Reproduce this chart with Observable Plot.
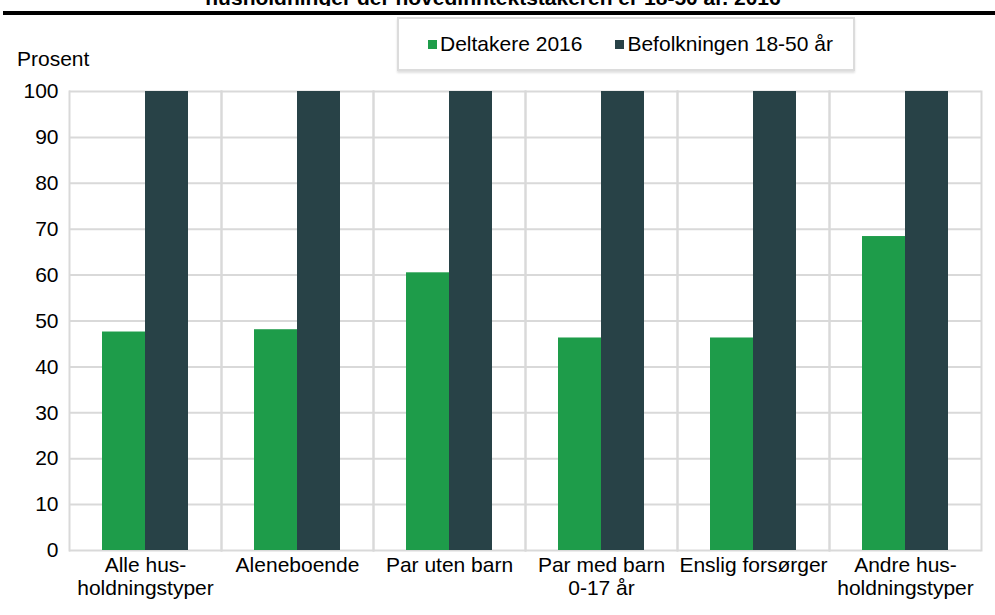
<!DOCTYPE html>
<html>
<head>
<meta charset="utf-8">
<script src="https://cdn.jsdelivr.net/npm/d3@7"></script>
<script src="https://cdn.jsdelivr.net/npm/@observablehq/plot@0.6"></script>
<style>
  html, body { margin: 0; padding: 0; background: #fff; }
  body { width: 995px; height: 615px; position: relative; overflow: hidden; font-family: "Liberation Sans", Arial, sans-serif; color: #000; }
  #chart { position: absolute; left: 0; top: 0; }
  #titleclip { position: absolute; left: 0; top: 0; width: 995px; height: 6px; overflow: hidden; }
  #title { position: absolute; left: 0; width: 986px; top: -13px; text-align: center; font-weight: bold; font-size: 21px; line-height: 21px; }
  #rule { position: absolute; left: 3px; top: 11px; width: 992px; height: 4px; background: #000; }
  #legend { position: absolute; left: 397px; top: 17px; width: 454px; height: 50px; border: 2px solid #dcdcdc; box-shadow: 0 2px 2px rgba(0,0,0,0.12); background: #fff; display: flex; align-items: center; justify-content: flex-start; padding-left: 29px; box-sizing: content-box; gap: 33px; font-size: 21px; }
  #legend { width: 425px; }
  .item { display: flex; align-items: center; }
  .sw { width: 9px; height: 9px; margin-right: 3px; display: inline-block; }
  #ylabel { position: absolute; left: 17px; top: 47px; font-size: 21px; }
</style>
</head>
<body>
<div id="chart"></div>
<div id="titleclip"><div id="title">husholdninger der hovedinntektstakeren er 18-50 år. 2016</div></div>
<div id="rule"></div>
<div id="legend"></div>
<div id="ylabel">Prosent</div>
<script>
const categories = ["Alle hus-\nholdningstyper", "Aleneboende", "Par uten barn", "Par med barn\n0-17 år", "Enslig forsørger", "Andre hus-\nholdningstyper"];
const seriesNames = ["Deltakere 2016", "Befolkningen 18-50 år"];
const deltakere = [47.6, 48.1, 60.5, 46.3, 46.3, 68.4];
const befolkningen = [100, 100, 100, 100, 100, 100];
const yTicks = [0, 10, 20, 30, 40, 50, 60, 70, 80, 90, 100];
const colors = ["#1e9c4a", "#284247"];

const data = categories.flatMap((c, i) => [
  {cat: c, series: seriesNames[0], value: deltakere[i]},
  {cat: c, series: seriesNames[1], value: befolkningen[i]}
]);

const grid = {stroke: "#d9d9d9", strokeWidth: 2, strokeOpacity: 1};

const chart = Plot.plot({
  width: 995,
  height: 615,
  marginTop: 91,
  marginBottom: 65,
  marginLeft: 68,
  marginRight: 14,
  style: {fontFamily: "'Liberation Sans', Arial, sans-serif", fontSize: "21px", color: "#000", background: "#fff", overflow: "visible"},
  fx: {domain: categories, padding: 0, label: null},
  x: {domain: seriesNames, paddingInner: 0, paddingOuter: 0.747, axis: null},
  y: {domain: [0, 100], label: null},
  color: {domain: seriesNames, range: colors},
  marks: [
    Plot.gridY(yTicks, grid),
    Plot.frame({anchor: "left", ...grid}),
    Plot.frame({anchor: "right", ...grid}),
    Plot.barY(data, {fx: "cat", x: "series", y: "value", fill: "series"}),
    Plot.axisY(yTicks, {tickSize: 0, tickPadding: 11, fontSize: 21, label: null}),
    Plot.axisFx({anchor: "bottom", tickSize: 0, tickPadding: 5, fontSize: 21, lineHeight: 1.1, label: null})
  ]
});
document.getElementById("chart").appendChild(chart);

const legend = document.getElementById("legend");
seriesNames.forEach((s, i) => {
  const item = document.createElement("div");
  item.className = "item";
  const sw = document.createElement("span");
  sw.className = "sw";
  sw.style.background = colors[i];
  const t = document.createElement("span");
  t.textContent = s;
  item.appendChild(sw);
  item.appendChild(t);
  legend.appendChild(item);
});
</script>
</body>
</html>
